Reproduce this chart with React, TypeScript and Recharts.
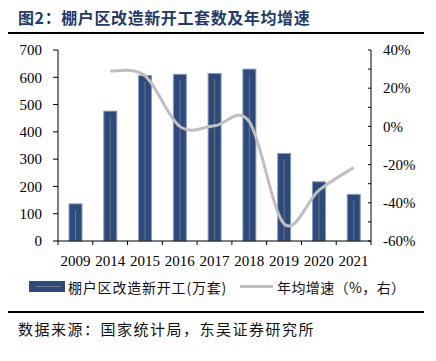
import { ComposedChart, Bar, Line, XAxis, YAxis } from 'recharts';

// 棚改新开工套数（万套）和年均增速（%）
const years = ['2009', '2014', '2015', '2016', '2017', '2018', '2019', '2020', '2021'];
const starts = [136, 476, 606, 611, 614, 630, 321, 217, 171];
const growth = [null, 29, 26.5, 0, 0.3, 2.5, -51, -33.5, -21.5];
const leftTicks = [0, 100, 200, 300, 400, 500, 600, 700];
const rightTicks = [-60, -50, -40, -30, -20, -10, 0, 10, 20, 30, 40];

const data = years.map((year, i) => ({ year, starts: starts[i], growth: growth[i] }));

const NAVY = '#2C4A7C';
const GREY = '#BFBFBF';
const NUM_FONT = '"Liberation Serif", "Times New Roman", serif';
const CJK_FONT = '"Noto Sans CJK SC", sans-serif';
const PLOT_W = 313;

// Excel-style smoothed line (catmull-rom through every point)
const excelSmooth = (context: any) => {
  let pts: number[][] = [];
  return {
    areaStart() {},
    areaEnd() {},
    lineStart() {
      pts = [];
    },
    lineEnd() {
      const n = pts.length;
      if (!n) return;
      context.moveTo(pts[0][0], pts[0][1]);
      for (let i = 0; i < n - 1; i++) {
        const p0 = pts[Math.max(i - 1, 0)];
        const p1 = pts[i];
        const p2 = pts[i + 1];
        const p3 = pts[Math.min(i + 2, n - 1)];
        context.bezierCurveTo(
          p1[0] + (p2[0] - p0[0]) / 6,
          p1[1] + (p2[1] - p0[1]) / 6,
          p2[0] - (p3[0] - p1[0]) / 6,
          p2[1] - (p3[1] - p1[1]) / 6,
          p2[0],
          p2[1]
        );
      }
    },
    point(x: number, y: number) {
      pts.push([+x, +y]);
    },
  };
};

const BarShape = (props: any) => {
  const { x, y, width, height } = props;
  if (!height) return null;
  return (
    <g>
      <rect x={x} y={y} width={width} height={height} fill={NAVY} stroke="#8A9EC4" strokeWidth={1} />
      <line x1={x + width / 2} x2={x + width / 2} y1={y + 6} y2={y + height} stroke="#6E7480" strokeWidth={1} />
    </g>
  );
};

const XTick = (props: any) => {
  const { x, y, payload, index } = props;
  const half = PLOT_W / years.length / 2;
  return (
    <g>
      <line x1={x - half} x2={x - half} y1={y} y2={y + 4} stroke="#000" />
      {index === years.length - 1 && <line x1={x + half} x2={x + half} y1={y} y2={y + 4} stroke="#000" />}
      <text x={x} y={y + 25} textAnchor="middle" fontFamily={NUM_FONT} fontSize={15} fill="#000">
        {payload.value}
      </text>
    </g>
  );
};

const LeftTick = (props: any) => {
  const { x, y, payload } = props;
  return (
    <g>
      <line x1={x - 5} x2={x} y1={y} y2={y} stroke="#000" />
      <text x={x - 16} y={y} dy="0.35em" textAnchor="end" fontFamily={NUM_FONT} fontSize={15} fill="#000">
        {payload.value}
      </text>
    </g>
  );
};

const RightTick = (props: any) => {
  const { x, y, payload } = props;
  const showLabel = payload.value % 20 === 0;
  return (
    <g>
      <line x1={x - 3} x2={x} y1={y} y2={y} stroke="#000" />
      {showLabel && (
        <text x={x + 12} y={y} dy="0.35em" textAnchor="start" fontFamily={NUM_FONT} fontSize={15} fill="#000">
          {`${payload.value}%`}
        </text>
      )}
    </g>
  );
};

export default function App() {
  return (
    <div style={{ position: 'absolute', left: 0, top: 0, width: 436, height: 361, background: '#fff' }}>
      <div
        style={{
          position: 'absolute',
          left: 18,
          top: 9,
          fontFamily: CJK_FONT,
          fontWeight: 700,
          fontSize: 16,
          lineHeight: '16px',
          letterSpacing: 0.6,
          color: '#1F3A6B',
          whiteSpace: 'nowrap',
        }}
      >
        图2：棚户区改造新开工套数及年均增速
      </div>
      <div style={{ position: 'absolute', left: 8, top: 32, width: 416, height: 2, background: '#000' }} />

      <div style={{ position: 'absolute', left: 0, top: 0 }}>
        <ComposedChart width={436} height={272} data={data} margin={{ top: 50, right: 0, bottom: 0, left: 0 }}>
          <XAxis
            dataKey="year"
            height={31}
            interval={0}
            axisLine={{ stroke: '#000' }}
            tickLine={false}
            tickSize={0}
            tickMargin={0}
            tick={<XTick />}
          />
          <YAxis
            yAxisId="left"
            width={58}
            domain={[0, 700]}
            ticks={leftTicks}
            interval={0}
            axisLine={{ stroke: '#000' }}
            tickLine={false}
            tickSize={0}
            tickMargin={0}
            tick={<LeftTick />}
          />
          <YAxis
            yAxisId="right"
            orientation="right"
            width={65}
            domain={[-60, 40]}
            ticks={rightTicks}
            interval={0}
            axisLine={{ stroke: '#000' }}
            tickLine={false}
            tickSize={0}
            tickMargin={0}
            tick={<RightTick />}
          />
          <Bar yAxisId="left" dataKey="starts" barSize={13} shape={<BarShape />} isAnimationActive={false} />
          <Line
            yAxisId="right"
            dataKey="growth"
            type={excelSmooth as any}
            stroke={GREY}
            strokeWidth={3}
            dot={false}
            activeDot={false}
            isAnimationActive={false}
          />
        </ComposedChart>
      </div>

      <div
        style={{
          position: 'absolute',
          left: 29,
          top: 281,
          width: 36,
          height: 11,
          background: NAVY,
        }}
      >
        <div style={{ position: 'absolute', left: 6, top: 5, width: 26, height: 1, background: '#6E7480' }} />
      </div>
      <div
        style={{
          position: 'absolute',
          left: 68,
          top: 279,
          fontFamily: CJK_FONT,
          fontSize: 14,
          lineHeight: '16px',
          letterSpacing: 0.8,
          color: '#111',
          whiteSpace: 'nowrap',
        }}
      >
        棚户区改造新开工(万套)
      </div>
      <div style={{ position: 'absolute', left: 240, top: 285, width: 33, height: 3, background: GREY }} />
      <div
        style={{
          position: 'absolute',
          left: 277,
          top: 279,
          fontFamily: CJK_FONT,
          fontSize: 14,
          lineHeight: '16px',
          letterSpacing: 0.4,
          color: '#111',
          whiteSpace: 'nowrap',
        }}
      >
        年均增速（%，右）
      </div>

      <div style={{ position: 'absolute', left: 8, top: 311, width: 416, height: 2, background: '#000' }} />
      <div
        style={{
          position: 'absolute',
          left: 18,
          top: 321,
          fontFamily: CJK_FONT,
          fontSize: 15,
          lineHeight: '15px',
          letterSpacing: 1.5,
          color: '#111',
          whiteSpace: 'nowrap',
        }}
      >
        数据来源：国家统计局，东吴证券研究所
      </div>
    </div>
  );
}
